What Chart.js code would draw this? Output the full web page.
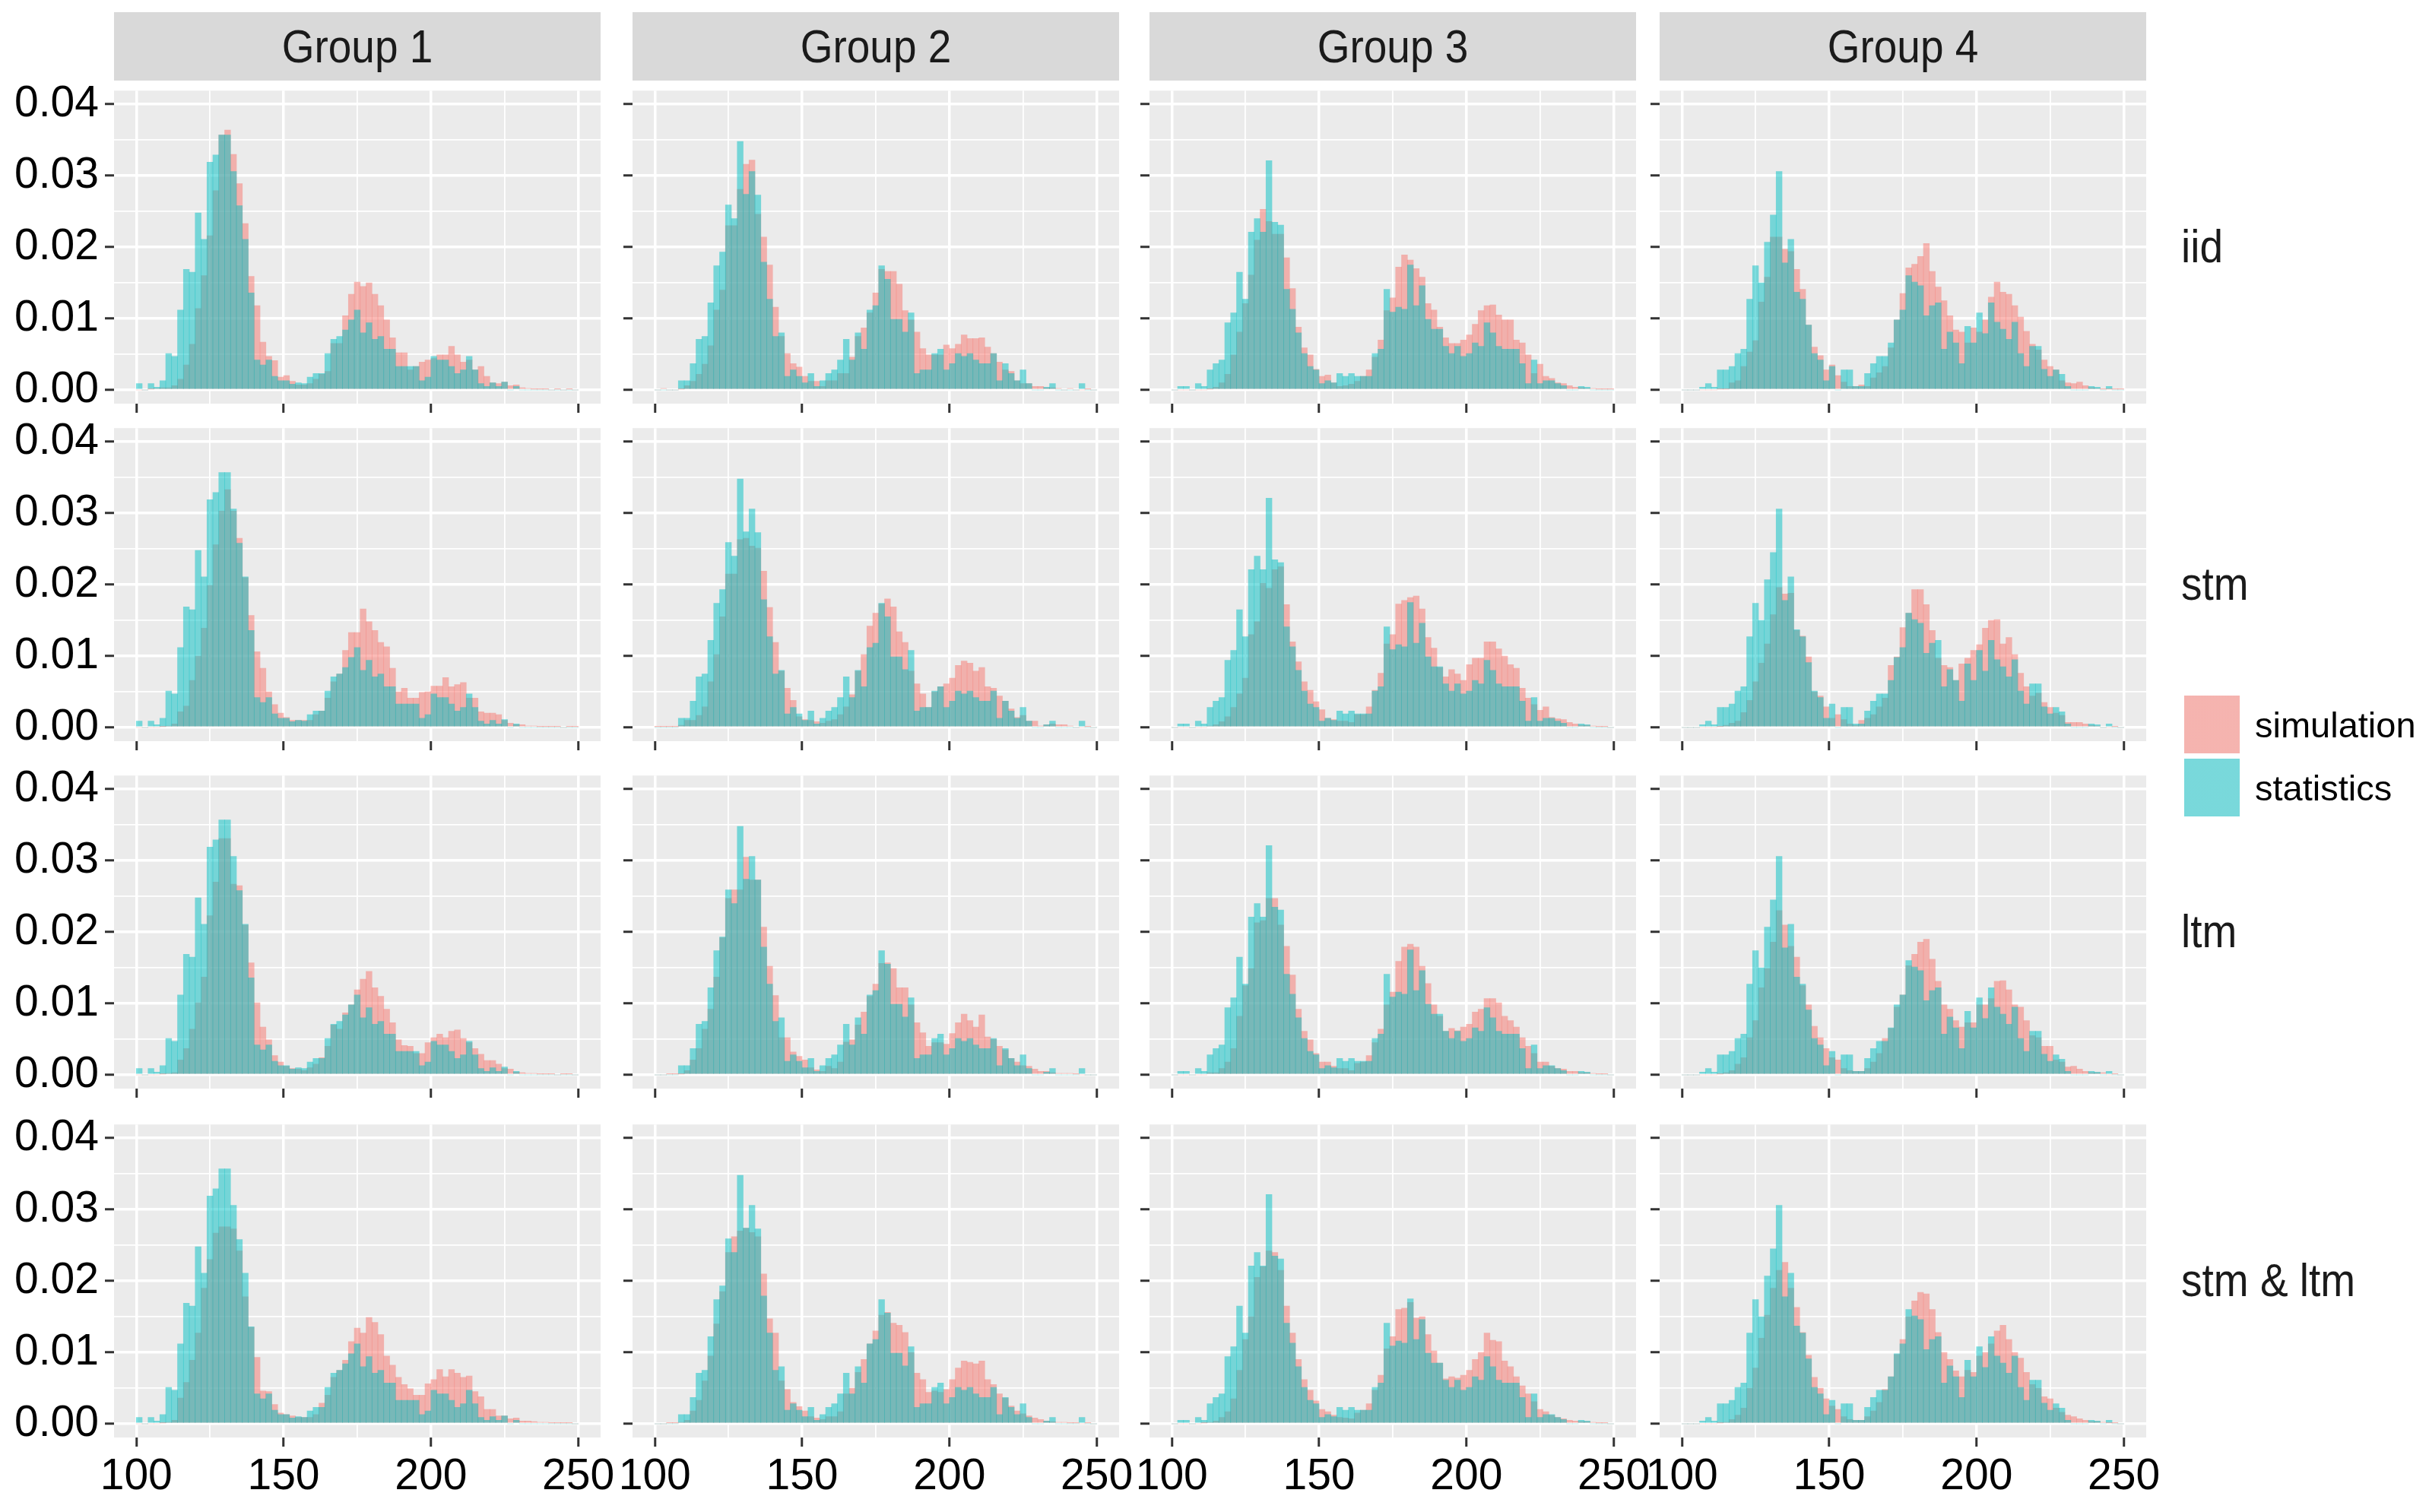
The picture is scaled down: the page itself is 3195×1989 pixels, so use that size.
<!DOCTYPE html>
<html>
<head>
<meta charset="utf-8">
<script src="https://cdn.jsdelivr.net/npm/chart.js@4.4.1/dist/chart.umd.min.js"></script>
<style>
  body { margin: 0; background: #fff; width: 3195px; height: 1989px; position: relative; overflow: hidden;
         font-family: "Liberation Sans", Arial, sans-serif; }
  canvas { position: absolute; }
  .strip { position: absolute; background: #d9d9d9; color: #1a1a1a; font-size: 55px;
           display: flex; align-items: center; justify-content: center; }
  .strip span, .rowlab span { display: inline-block; transform: scaleY(1.12); }
  .rowlab { position: absolute; font-size: 55px; color: #1a1a1a; display: flex; align-items: center; }
  .key { position: absolute; width: 73px; height: 76px; }
  .keylab { position: absolute; font-size: 47px; color: #000; line-height: 1; }
</style>
</head>
<body>
<script>
const groups = ['Group 1', 'Group 2', 'Group 3', 'Group 4'];
const models = ['iid', 'stm', 'ltm', 'stm & ltm'];
const seriesNames = ['simulation', 'statistics'];

// histogram bins of width 2, centres
const binCenters = [
  101,103,105,107,109,111,113,115,117,119,
  121,123,125,127,129,131,133,135,137,139,
  141,143,145,147,149,151,153,155,157,159,
  161,163,165,167,169,171,173,175,177,179,
  181,183,185,187,189,191,193,195,197,199,
  201,203,205,207,209,211,213,215,217,219,
  221,223,225,227,229,231,233,235,237,239,
  241,243,245,247,249];

const xTicks = [100, 125, 150, 175, 200, 225, 250];
const xMajor = [100, 150, 200, 250];
const yTicks = [0, 0.005, 0.01, 0.015, 0.02, 0.025, 0.03, 0.035, 0.04];
const yMajor = [0, 0.01, 0.02, 0.03, 0.04];

// densities below are in units of 1e-4
const DENS = 1e-4;

const statG1 = [
  9,0,9,4,13,51,47,112,169,165,
  248,211,319,329,357,357,306,258,211,136,
  42,35,42,19,13,13,8,10,9,18,
  23,23,51,71,75,84,98,112,80,94,
  71,75,57,57,33,33,33,33,13,18,
  47,42,42,33,23,28,47,28,9,5,
  10,5,11,0,5,0,0,0,0,0,
  0,0,0,0,0];
const simG1Iid = [
  0,0,1,2,3,3,6,15,35,64,
  114,160,216,279,357,364,330,289,233,159,
  118,67,47,41,18,20,12,7,7,9,
  15,22,26,65,65,104,134,151,145,150,
  134,118,98,73,52,52,28,33,39,42,
  44,49,49,61,49,39,42,28,33,19,
  10,9,11,6,7,3,2,1,1,1,
  0,1,0,1,0];
const simG1Stm = [
  0,0,0,0,1,2,5,22,30,66,
  100,139,199,256,303,333,303,265,210,157,
  106,83,50,32,20,14,10,10,10,10,
  18,23,41,64,75,108,133,133,166,148,
  136,119,113,83,50,55,41,41,49,50,
  58,58,70,57,60,63,41,41,22,20,
  20,18,10,6,4,4,2,2,1,1,
  1,1,0,1,1];
const simG1Ltm = [
  0,0,0,0,1,2,3,21,37,64,
  101,137,223,270,331,331,267,265,210,157,
  101,67,49,27,18,12,9,8,6,10,
  15,24,40,70,64,87,98,119,134,145,
  122,110,92,73,49,41,40,30,30,45,
  52,57,52,61,63,51,45,37,29,20,
  20,15,9,8,4,3,2,2,1,1,
  1,0,1,1,0];
const simG1Both = [
  0,0,0,0,1,2,5,36,58,89,
  127,190,230,267,276,276,273,242,178,135,
  93,46,45,27,15,13,11,9,9,9,
  13,29,40,65,75,89,115,134,127,149,
  142,125,95,82,65,55,49,40,40,56,
  62,76,66,76,71,65,67,45,38,20,
  20,11,11,7,8,4,4,3,2,2,
  1,1,1,1,0];

const statG2 = [
  0,0,0,0,13,13,37,71,75,122,
  174,193,259,240,348,274,306,273,179,127,
  75,80,19,28,19,10,23,5,13,23,
  28,42,71,42,80,57,112,118,174,155,
  99,99,81,108,23,28,28,51,57,28,
  37,51,47,51,42,37,37,51,13,37,
  23,13,28,9,0,0,4,9,0,0,
  0,0,9,0,0];
const simG2Iid = [
  0,2,0,0,1,6,12,22,36,62,
  112,140,230,230,281,316,322,246,214,175,
  116,75,51,37,32,19,12,12,5,13,
  13,23,23,46,75,87,108,136,169,166,
  166,148,111,98,81,58,49,49,49,63,
  58,64,77,72,72,73,60,51,39,28,
  26,13,9,9,5,5,3,3,2,0,
  2,0,0,1,0];
const simG2Stm = [
  1,1,1,1,3,10,10,17,29,64,
  102,155,215,215,263,265,254,251,219,168,
  119,79,55,38,15,11,10,8,6,9,
  11,18,29,46,79,102,142,160,173,180,
  169,134,119,79,61,47,28,50,57,61,
  69,87,93,90,79,84,57,55,44,37,
  26,14,17,9,9,2,4,5,4,4,
  2,0,0,1,0];
const simG2Ltm = [
  0,0,1,1,1,6,21,37,64,92,
  137,192,247,259,259,305,273,273,207,152,
  111,52,52,32,26,21,10,7,5,12,
  9,18,46,49,70,88,110,127,156,157,
  149,122,122,98,73,59,40,45,45,43,
  58,73,85,76,67,84,53,50,40,35,
  23,18,13,12,8,5,5,3,2,2,
  2,1,0,0,0];
const simG2Both = [
  0,0,1,1,2,5,18,33,60,95,
  140,185,240,262,270,274,268,262,210,147,
  127,60,48,30,24,18,10,8,6,10,
  10,17,42,50,72,90,112,130,152,156,
  141,138,128,100,71,62,44,46,44,48,
  62,78,88,86,84,88,62,55,42,36,
  25,18,14,11,8,6,4,3,2,2,
  1,1,0,1,0];

const statG3 = [
  0,5,5,0,9,5,28,37,42,94,
  108,165,127,221,240,221,321,235,231,141,
  113,80,51,33,28,9,13,10,23,19,
  23,19,19,19,51,57,141,109,116,113,
  175,118,146,99,85,85,61,51,61,47,
  51,66,61,94,80,61,57,57,57,37,
  9,42,9,13,13,9,6,0,0,5,
  4,0,0,0,0];
const simG3Iid = [
  0,0,0,0,0,0,1,4,10,22,
  49,81,121,161,210,253,236,218,218,185,
  142,88,59,49,29,19,21,10,5,6,
  8,12,19,28,46,70,111,129,172,189,
  182,170,158,121,112,88,73,65,65,70,
  77,92,111,118,119,105,98,98,70,66,
  49,23,36,19,16,10,9,6,4,3,
  2,2,1,1,1];
const simG3Stm = [
  0,0,0,0,0,0,2,4,8,15,
  28,47,69,130,148,202,195,221,225,172,
  120,92,64,52,36,25,13,11,9,9,
  7,18,18,29,52,76,117,130,173,178,
  182,184,166,126,111,84,71,81,75,66,
  88,97,97,120,120,110,100,88,83,55,
  41,32,24,29,14,12,11,7,5,3,
  3,2,1,1,0];
const simG3Ltm = [
  0,0,0,0,0,0,3,3,9,18,
  37,82,125,149,213,216,247,247,210,180,
  140,92,61,49,30,18,18,12,9,9,
  6,16,18,27,45,64,98,116,159,179,
  183,179,152,128,98,82,61,65,62,67,
  71,88,92,107,107,101,82,76,67,52,
  40,30,18,18,12,9,8,5,5,3,
  3,2,1,1,0];
const simG3Both = [
  0,0,0,0,0,1,2,4,9,17,
  35,75,118,150,205,220,242,240,215,165,
  127,90,62,47,32,20,17,12,9,8,
  7,15,19,28,47,68,105,122,160,162,
  170,148,150,125,102,85,63,66,64,68,
  75,90,100,127,117,115,88,80,66,53,
  42,31,20,17,12,9,7,5,4,3,
  3,2,1,1,0];

const statG4 = [
  0,0,0,4,9,4,28,28,33,51,
  57,127,174,150,207,245,306,178,211,137,
  127,91,51,42,13,33,0,28,28,5,
  5,23,37,47,47,66,98,112,160,151,
  146,104,118,122,57,81,66,37,89,66,
  108,79,122,95,85,71,95,51,33,61,
  61,29,19,28,22,5,0,0,0,5,
  4,0,5,0,0];
const simG4Iid = [
  0,0,0,0,0,0,1,1,10,13,
  33,53,69,123,158,214,214,197,194,169,
  141,91,60,48,28,35,20,11,5,5,
  7,5,17,24,33,59,98,135,171,176,
  187,205,166,144,125,104,84,81,66,87,
  81,98,130,151,137,134,118,102,82,64,
  56,42,33,28,13,10,9,11,6,3,
  2,1,1,1,1];
const simG4Stm = [
  0,0,0,0,0,0,1,3,6,9,
  21,38,64,90,117,158,196,187,188,136,
  128,99,50,44,29,13,18,11,5,3,
  10,13,18,29,41,87,99,140,160,193,
  193,172,136,97,87,84,66,89,97,108,
  116,139,150,151,117,126,102,76,57,44,
  48,35,28,20,17,7,7,7,5,3,
  2,0,0,1,0];
const simG4Ltm = [
  0,0,0,0,0,0,1,3,6,15,
  24,52,76,122,149,186,230,210,180,165,
  125,98,68,52,37,24,21,9,6,5,
  5,9,18,30,51,65,95,112,153,169,
  186,190,162,131,98,92,76,67,73,73,
  98,98,107,131,132,119,98,95,76,55,
  52,40,40,21,18,11,12,8,5,3,
  3,3,0,1,0];
const simG4Both = [
  0,0,0,0,0,0,1,2,6,12,
  22,50,78,120,152,190,215,226,190,163,
  128,96,65,50,35,25,20,10,6,5,
  5,10,18,30,48,66,97,118,150,172,
  184,182,160,128,100,90,74,66,75,72,
  95,100,112,130,138,118,100,92,72,55,
  50,38,35,22,16,12,10,7,5,3,
  3,2,1,1,0];

const statBy = [statG1, statG2, statG3, statG4];
const simBy = [
  [simG1Iid, simG1Stm, simG1Ltm, simG1Both],
  [simG2Iid, simG2Stm, simG2Ltm, simG2Both],
  [simG3Iid, simG3Stm, simG3Ltm, simG3Both],
  [simG4Iid, simG4Stm, simG4Ltm, simG4Both]
];

// page layout (px)
const colX = [150, 832, 1512, 2183];
const rowY = [117, 561, 1018, 1477];
const PW = 640, PH = 414;

const SIM_FILL = 'rgba(248,118,109,0.5)';
const STAT_FILL = 'rgba(0,191,196,0.5)';
const FONT = "'Liberation Sans', Arial, sans-serif";

Chart.defaults.font.family = FONT;

const panelBg = {
  id: 'panelBg',
  beforeDraw(chart) {
    const a = chart.chartArea, c = chart.ctx;
    c.save();
    c.fillStyle = '#ebebeb';
    c.fillRect(a.left, a.top, a.right - a.left, a.bottom - a.top);
    c.restore();
  }
};

function tickVal(ctx) {
  return ctx && ctx.tick ? ctx.tick.value : NaN;
}

function addDiv(cls, text, x, y, w, h) {
  const d = document.createElement('div');
  d.className = cls;
  if (text) {
    const s = document.createElement('span');
    s.textContent = text;
    d.appendChild(s);
  }
  d.style.left = x + 'px';
  d.style.top = y + 'px';
  if (w) d.style.width = w + 'px';
  if (h) d.style.height = h + 'px';
  document.body.appendChild(d);
  return d;
}

function makePanel(r, c) {
  const yW = c === 0 ? 150 : 14;
  const xH = r === 3 ? 100 : 14;
  const padL = c === 0 ? 0 : 60, padT = 40, padR = 60, padB = 40;
  const W = padL + yW + PW + padR, H = padT + PH + xH + padB;
  const cv = document.createElement('canvas');
  cv.width = W; cv.height = H;
  cv.style.width = W + 'px'; cv.style.height = H + 'px';
  cv.style.left = (colX[c] - yW - padL) + 'px';
  cv.style.top = (rowY[r] - padT) + 'px';
  document.body.appendChild(cv);

  const sim = simBy[c][r], stat = statBy[c];
  new Chart(cv, {
    type: 'bar',
    data: {
      datasets: [
        { label: seriesNames[0], order: 2, backgroundColor: SIM_FILL,
          data: binCenters.map((x, i) => ({ x: x, y: sim[i] * DENS })) },
        { label: seriesNames[1], order: 1, backgroundColor: STAT_FILL,
          data: binCenters.map((x, i) => ({ x: x, y: stat[i] * DENS })) }
      ]
    },
    options: {
      responsive: false,
      animation: false,
      events: [],
      layout: { autoPadding: false, padding: { top: padT, right: padR, left: padL, bottom: padB } },
      datasets: { bar: { barPercentage: 1, categoryPercentage: 1, grouped: false, borderWidth: 0 } },
      plugins: { legend: { display: false }, tooltip: { enabled: false } },
      scales: {
        x: {
          type: 'linear', min: 92.45, max: 257.6, offset: false,
          afterBuildTicks: s => { s.ticks = xTicks.map(v => ({ value: v })); },
          afterFit: s => { s.height = xH; },
          border: { display: false },
          grid: {
            offset: false,
            color: '#ffffff',
            lineWidth: ctx => xMajor.includes(tickVal(ctx)) ? 3.5 : 1.8,
            tickColor: ctx => xMajor.includes(tickVal(ctx)) ? '#333333' : 'rgba(0,0,0,0)',
            tickLength: 12, tickWidth: 3
          },
          ticks: {
            color: r === 3 ? '#000' : 'rgba(0,0,0,0)',
            font: { size: 57 }, padding: 6, maxRotation: 0, autoSkip: false,
            callback: v => xMajor.includes(v) ? String(v) : ''
          }
        },
        y: {
          min: -0.00192, max: 0.04192,
          afterBuildTicks: s => { s.ticks = yTicks.map(v => ({ value: v })); },
          afterFit: s => { s.width = yW; },
          border: { display: false },
          grid: {
            color: '#ffffff',
            lineWidth: ctx => yMajor.includes(tickVal(ctx)) ? 3.5 : 1.8,
            tickColor: ctx => yMajor.includes(tickVal(ctx)) ? '#333333' : 'rgba(0,0,0,0)',
            tickLength: 12, tickWidth: 3
          },
          ticks: {
            color: c === 0 ? '#000' : 'rgba(0,0,0,0)',
            font: { size: 57 }, padding: 8, autoSkip: false,
            callback: v => yMajor.includes(v) ? v.toFixed(2) : ''
          }
        }
      }
    },
    plugins: [panelBg]
  });
}

for (let c = 0; c < groups.length; c++) {
  addDiv('strip', groups[c], colX[c], 16, PW, 90);
}
for (let r = 0; r < models.length; r++) {
  addDiv('rowlab', models[r], 2869, rowY[r], 320, PH);
  for (let c = 0; c < groups.length; c++) makePanel(r, c);
}

// legend
const simKey = addDiv('key', '', 2873, 915);
simKey.style.background = 'linear-gradient(' + SIM_FILL + ',' + SIM_FILL + '), #f2f2f2';
const statKey = addDiv('key', '', 2873, 998);
statKey.style.background = 'linear-gradient(' + STAT_FILL + ',' + STAT_FILL + '), #f2f2f2';
addDiv('keylab', seriesNames[0], 2966, 930);
addDiv('keylab', seriesNames[1], 2966, 1013);
</script>
</body>
</html>
